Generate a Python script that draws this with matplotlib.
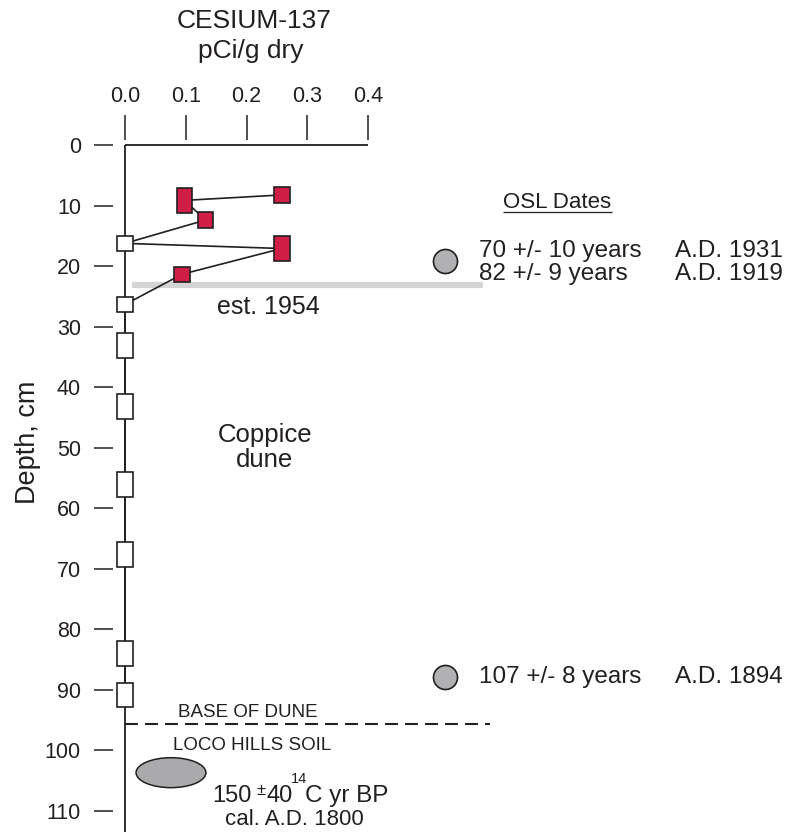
import matplotlib
matplotlib.use("Agg")
import matplotlib.pyplot as plt
from matplotlib.patches import Ellipse

INK = "#231f20"
RED = "#d01f47"
BAND = "#d4d4d4"
GREY = "#b1b1b3"

plt.rcParams["font.family"] = ["Liberation Sans", "DejaVu Sans"]

# Cs-137 samples: activity (pCi/g dry) and depth interval (cm)
cs137 = [0.258, 0.098, 0.1325, 0.0, 0.258, 0.094, 0.0, 0.0, 0.0, 0.0, 0.0, 0.0, 0.0]
depth_top = [6.9, 7.1, 11.1, 15.0, 15.0, 20.1, 25.1, 31.0, 41.1, 54.0, 65.6, 81.9, 88.9]
depth_bot = [9.6, 11.2, 13.7, 17.5, 19.2, 22.6, 27.6, 35.2, 45.3, 58.1, 69.7, 86.0, 92.8]

x_ticks = [0.0, 0.1, 0.2, 0.3, 0.4]
y_ticks = list(range(0, 111, 10))

# OSL dates
osl_depth = [19.2, 87.9]
osl_x = 0.527
osl_rows = [18.5, 22.3, 88.85]
osl_ages = ["70 +/- 10 years", "82 +/- 9 years", "107 +/- 8 years"]
osl_ad = ["A.D. 1931", "A.D. 1919", "A.D. 1894"]

est_1954_depth = 23.1
base_of_dune = 95.6
c14_depth = 103.7

fig = plt.figure(figsize=(7.87, 8.35), dpi=100, facecolor="white")
ax = fig.add_axes([125 / 787, 1 - 832 / 835, 662 / 787, (832 - 145) / 835])
ax.set_xlim(0, 662 / 607.5)
ax.set_ylim(113.5, 0)

for s in ["right", "bottom", "left", "top"]:
    ax.spines[s].set_visible(False)
ax.spines["left"].set_position(("outward", 8.6))
ax.spines["top"].set_position(("outward", 3.6))

ax.xaxis.tick_top()
ax.set_xticks(x_ticks)
ax.set_xticklabels([f"{v:.1f}" for v in x_ticks])
ax.set_yticks(y_ticks)
ax.tick_params(axis="x", length=18, width=1.1, pad=5.5, labelsize=15.5, colors=INK)
ax.tick_params(axis="y", length=13.7, width=1.1, pad=9.4, labelsize=15.5, colors=INK)

# axis lines at x=0 and depth=0
ax.vlines(0, 0, 113.5, color=INK, lw=1.3, clip_on=False, zorder=2)
ax.hlines(0, 0, x_ticks[-1], color=INK, lw=1.3, clip_on=False, zorder=2)

# 1954 horizon band
ax.hlines(est_1954_depth, 0.012, 0.59, color=BAND, lw=4.5, zorder=1)

# profile line through sample midpoints
mids = [(t + b) / 2 for t, b in zip(depth_top, depth_bot)]
ax.plot(cs137, mids, color=INK, lw=1.2, zorder=3, clip_on=False)

heights = [b - t for t, b in zip(depth_top, depth_bot)]
faces = [RED if v > 0 else "white" for v in cs137]
ax.bar(cs137, heights, bottom=depth_top, width=0.026, color=faces,
       edgecolor=INK, linewidth=1.2, zorder=4, clip_on=False)

# OSL dates
ax.text(0.712, 10.4, "OSL Dates", ha="center", va="baseline", fontsize=16, color=INK)
ax.hlines(11.1, 0.622, 0.802, color=INK, lw=0.9)
ax.scatter([osl_x] * len(osl_depth), osl_depth, s=300, facecolor=GREY,
           edgecolor=INK, linewidth=1.2, zorder=4)
for d, age, ad in zip(osl_rows, osl_ages, osl_ad):
    ax.text(0.583, d, age, ha="left", va="baseline", fontsize=17.5, color=INK)
    ax.text(0.905, d, ad, ha="left", va="baseline", fontsize=17.5, color=INK)

ax.text(0.236, 27.9, "est. 1954", ha="center", va="baseline", fontsize=18, color=INK)
ax.text(0.230, 49.05, "Coppice", ha="center", va="baseline", fontsize=18.5, color=INK)
ax.text(0.230, 53.2, "dune", ha="center", va="baseline", fontsize=18.5, color=INK)

# base of dune
ax.hlines(base_of_dune, 0, 0.601, color=INK, lw=1.5, linestyles=(0, (6.2, 3.4)))
ax.text(0.087, 94.5, "BASE OF DUNE", ha="left", va="baseline", fontsize=13.5, color=INK)
ax.text(0.079, 99.9, "LOCO HILLS SOIL", ha="left", va="baseline", fontsize=13.5, color=INK)

ax.add_patch(Ellipse((0.0757, c14_depth), 0.115, 4.95, facecolor="#aaaaac",
                     edgecolor=INK, lw=1.1, zorder=4))
ax.text(0.143, 108.5, "150", ha="left", va="baseline", fontsize=17, color=INK)
ax.text(0.216, 107.4, "\u00b1", ha="left", va="baseline", fontsize=12, color=INK)
ax.text(0.233, 108.5, "40", ha="left", va="baseline", fontsize=17, color=INK)
ax.text(0.273, 105.4, "14", ha="left", va="baseline", fontsize=10.5, color=INK)
ax.text(0.296, 108.5, "C yr BP", ha="left", va="baseline", fontsize=17.5, color=INK)
ax.text(0.278, 112.3, "cal. A.D. 1800", ha="center", va="baseline", fontsize=16,
        color=INK, clip_on=False)

fig.text(0.3227, 1 - 28 / 835, "CESIUM-137", ha="center", va="baseline",
         fontsize=19, color=INK)
fig.text(0.318, 1 - 58 / 835, "pCi/g dry", ha="center", va="baseline",
         fontsize=19, color=INK)
fig.text(28 / 787, 1 - 442 / 835, "Depth, cm", rotation=90, ha="center",
         va="center", fontsize=19.5, color=INK)

fig.savefig("out.png", dpi=100, facecolor="white")
